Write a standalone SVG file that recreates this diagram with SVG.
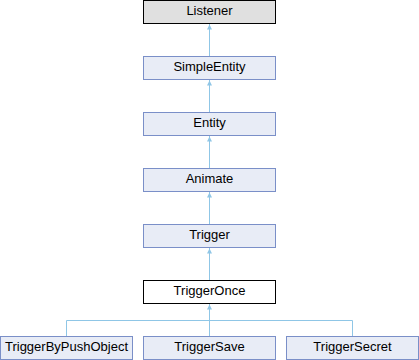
<svg xmlns="http://www.w3.org/2000/svg" width="419" height="360" viewBox="0 0 419 360">
<defs>
<style>
.n rect{fill:#e8ecf6;stroke:#7a8fc8;stroke-width:1}
.n text{font-family:"Liberation Sans",Arial,sans-serif;font-size:13px;fill:#000;text-anchor:middle}
#listener rect{fill:#e0e0e0;stroke:#000}
#triggeronce rect{fill:#fff;stroke:#000}
.e{stroke:#8fc6e6;stroke-width:1;fill:none}
.a{fill:#8fc6e6}
</style>
</defs>
<rect width="419" height="360" fill="#fff"/>
<g id="edges">
<path class="e" d="M209.5,24 V56"/>
<path class="e" d="M209.5,80 V112"/>
<path class="e" d="M209.5,136 V168"/>
<path class="e" d="M209.5,192 V224"/>
<path class="e" d="M209.5,248 V280"/>
<path class="e" d="M209.5,304 V336"/>
<path class="e" d="M66.5,336 V320.5 H352.5 V336"/>
<path class="a" d="M209.5,24.5 L212,29.5 L207,29.5 Z"/>
<path class="a" d="M209.5,80.5 L212,85.5 L207,85.5 Z"/>
<path class="a" d="M209.5,136.5 L212,141.5 L207,141.5 Z"/>
<path class="a" d="M209.5,192.5 L212,197.5 L207,197.5 Z"/>
<path class="a" d="M209.5,248.5 L212,253.5 L207,253.5 Z"/>
<path class="a" d="M209.5,304.5 L212,309.5 L207,309.5 Z"/>
</g>
<g id="listener" class="n"><rect x="143.5" y="0.5" width="132" height="23"/><text x="209.5" y="15">Listener</text></g>
<g id="simpleentity" class="n"><rect x="143.5" y="56.5" width="132" height="23"/><text x="209.5" y="71">SimpleEntity</text></g>
<g id="entity" class="n"><rect x="143.5" y="112.5" width="132" height="23"/><text x="209.5" y="127">Entity</text></g>
<g id="animate" class="n"><rect x="143.5" y="168.5" width="132" height="23"/><text x="209.5" y="183">Animate</text></g>
<g id="trigger" class="n"><rect x="143.5" y="224.5" width="132" height="23"/><text x="209.5" y="239">Trigger</text></g>
<g id="triggeronce" class="n"><rect x="143.5" y="280.5" width="132" height="23"/><text x="209.5" y="295">TriggerOnce</text></g>
<g id="triggerbypushobject" class="n"><rect x="0.5" y="336.5" width="132" height="23"/><text x="66.5" y="351">TriggerByPushObject</text></g>
<g id="triggersave" class="n"><rect x="143.5" y="336.5" width="132" height="23"/><text x="209.5" y="351">TriggerSave</text></g>
<g id="triggersecret" class="n"><rect x="286.5" y="336.5" width="132" height="23"/><text x="352.5" y="351">TriggerSecret</text></g>
</svg>
